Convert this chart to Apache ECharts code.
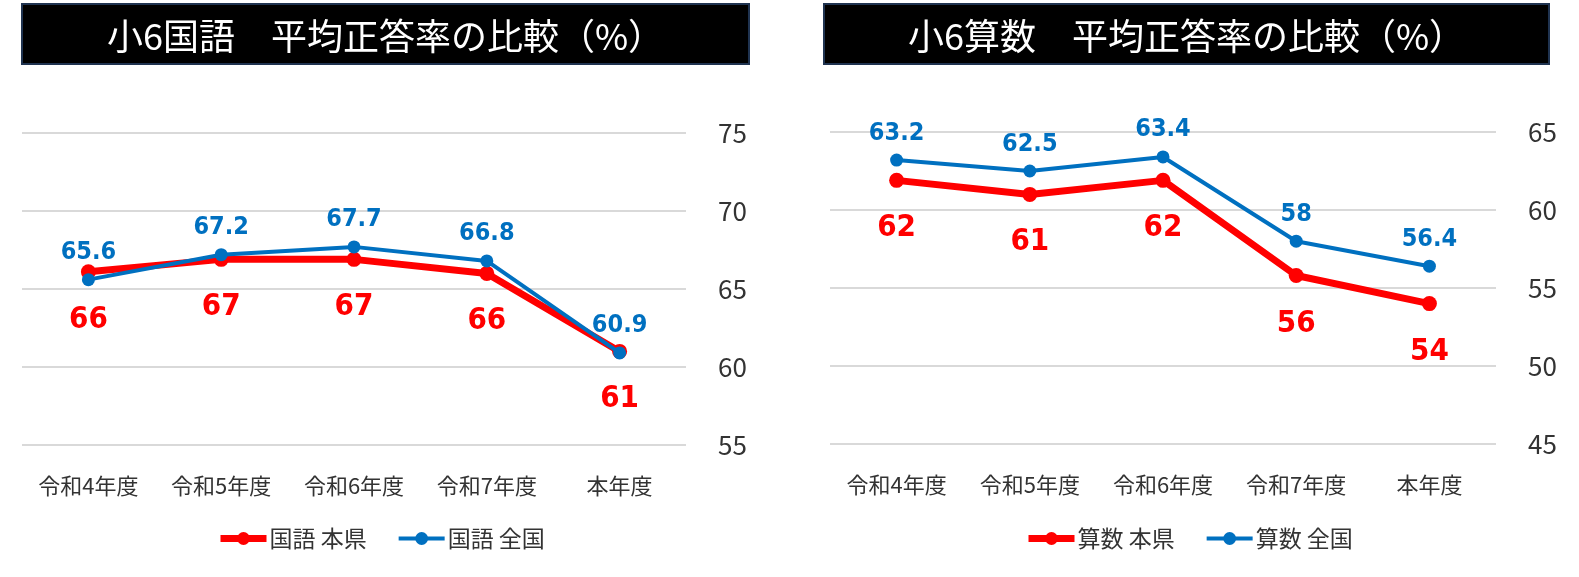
<!DOCTYPE html>
<html>
<head>
    <meta charset="utf-8" />
    <title>小6 平均正答率の比較</title>
    <script src="https://cdn.jsdelivr.net/npm/echarts@6/dist/echarts.min.js"></script>
    <style>
        html, body { margin: 0; padding: 0; background: #fff; }
        #div_echart { width: 1579px; height: 577px; }
    </style>
</head>
<body>
    <div id="div_echart"></div>
    <script>
        // 年度
        var categories = ['令和4年度', '令和5年度', '令和6年度', '令和7年度', '本年度'];

        // 国語
        var kokugoKen = [66.1, 66.9, 66.9, 66.0, 61.0];
        var kokugoZenkoku = [65.6, 67.2, 67.7, 66.8, 60.9];
        var kokugoTicks = { min: 55, max: 75, interval: 5 };

        // 算数
        var sansuKen = [61.9, 61.0, 61.9, 55.8, 54.0];
        var sansuZenkoku = [63.2, 62.5, 63.4, 58, 56.4];
        var sansuTicks = { min: 45, max: 65, interval: 5 };

        var JP = '"Noto Sans CJK JP", "Noto Sans", sans-serif';
        var NUM = '"DejaVu Sans Condensed", "Liberation Sans Narrow", "Noto Sans", sans-serif';
        var RED = '#FF0000';
        var BLUE = '#0070C0';

        function titleBox(x, w, text) {
            return {
                type: 'group',
                children: [
                    {
                        type: 'rect',
                        shape: { x: x, y: 4, width: w, height: 60 },
                        style: { fill: '#000', stroke: '#1F3350', lineWidth: 2 }
                    },
                    {
                        type: 'text',
                        x: x + w / 2,
                        y: 36,
                        style: {
                            text: text,
                            fill: '#fff',
                            font: '36px ' + JP,
                            textAlign: 'center',
                            textVerticalAlign: 'middle'
                        }
                    }
                ]
            };
        }

        function xAxisOf(idx) {
            return {
                type: 'category',
                gridIndex: idx,
                data: categories,
                axisLine: { show: false },
                axisTick: { show: false },
                axisLabel: { color: '#333', fontSize: 22, fontFamily: JP, margin: 30, interval: 0 }
            };
        }

        function yAxisOf(idx, t) {
            return {
                type: 'value',
                gridIndex: idx,
                position: 'right',
                min: t.min,
                max: t.max,
                interval: t.interval,
                axisLine: { show: false },
                axisTick: { show: false },
                axisLabel: { color: '#333', fontSize: 26, fontFamily: JP, margin: 32 },
                splitLine: { lineStyle: { color: '#d9d9d9', width: 2 } }
            };
        }

        function kenSeries(name, idx, data) {
            return {
                name: name,
                type: 'line',
                xAxisIndex: idx,
                yAxisIndex: idx,
                data: data,
                symbol: 'circle',
                symbolSize: 15,
                itemStyle: { color: RED },
                lineStyle: { color: RED, width: 7 },
                label: {
                    show: true,
                    position: 'bottom',
                    distance: 25,
                    color: RED,
                    fontSize: 31,
                    fontWeight: 'bold',
                    fontFamily: NUM,
                    formatter: function (p) { return Math.round(p.value); }
                },
                z: 2
            };
        }

        function zenkokuSeries(name, idx, data) {
            return {
                name: name,
                type: 'line',
                xAxisIndex: idx,
                yAxisIndex: idx,
                data: data,
                symbol: 'circle',
                symbolSize: 13,
                itemStyle: { color: BLUE },
                lineStyle: { color: BLUE, width: 4 },
                label: {
                    show: true,
                    position: 'top',
                    distance: 8,
                    color: BLUE,
                    fontSize: 25,
                    fontWeight: 'bold',
                    fontFamily: NUM
                },
                z: 3
            };
        }

        function legendOf(left, names) {
            return {
                left: left,
                top: 522,
                data: [
                    { name: names[0], lineStyle: { width: 7 } },
                    { name: names[1], lineStyle: { width: 4 } }
                ],
                itemWidth: 46,
                itemHeight: 16,
                itemGap: 30,
                textStyle: { color: '#333', fontSize: 23, fontFamily: JP, padding: [0, 0, 0, -2] }
            };
        }

        var mychart = echarts.init(document.getElementById('div_echart'));
        var option = {
            animation: false,
            graphic: [
                titleBox(22, 727, '小6国語　平均正答率の比較（%）'),
                titleBox(824, 725, '小6算数　平均正答率の比較（%）')
            ],
            legend: [
                legendOf(212, ['国語 本県', '国語 全国']),
                legendOf(1020, ['算数 本県', '算数 全国'])
            ],
            grid: [
                { left: 22, top: 133, width: 664, height: 312 },
                { left: 830, top: 132, width: 666, height: 312 }
            ],
            xAxis: [xAxisOf(0), xAxisOf(1)],
            yAxis: [yAxisOf(0, kokugoTicks), yAxisOf(1, sansuTicks)],
            series: [
                kenSeries('国語 本県', 0, kokugoKen),
                zenkokuSeries('国語 全国', 0, kokugoZenkoku),
                kenSeries('算数 本県', 1, sansuKen),
                zenkokuSeries('算数 全国', 1, sansuZenkoku)
            ]
        };
        mychart.setOption(option);
    </script>
</body>
</html>
